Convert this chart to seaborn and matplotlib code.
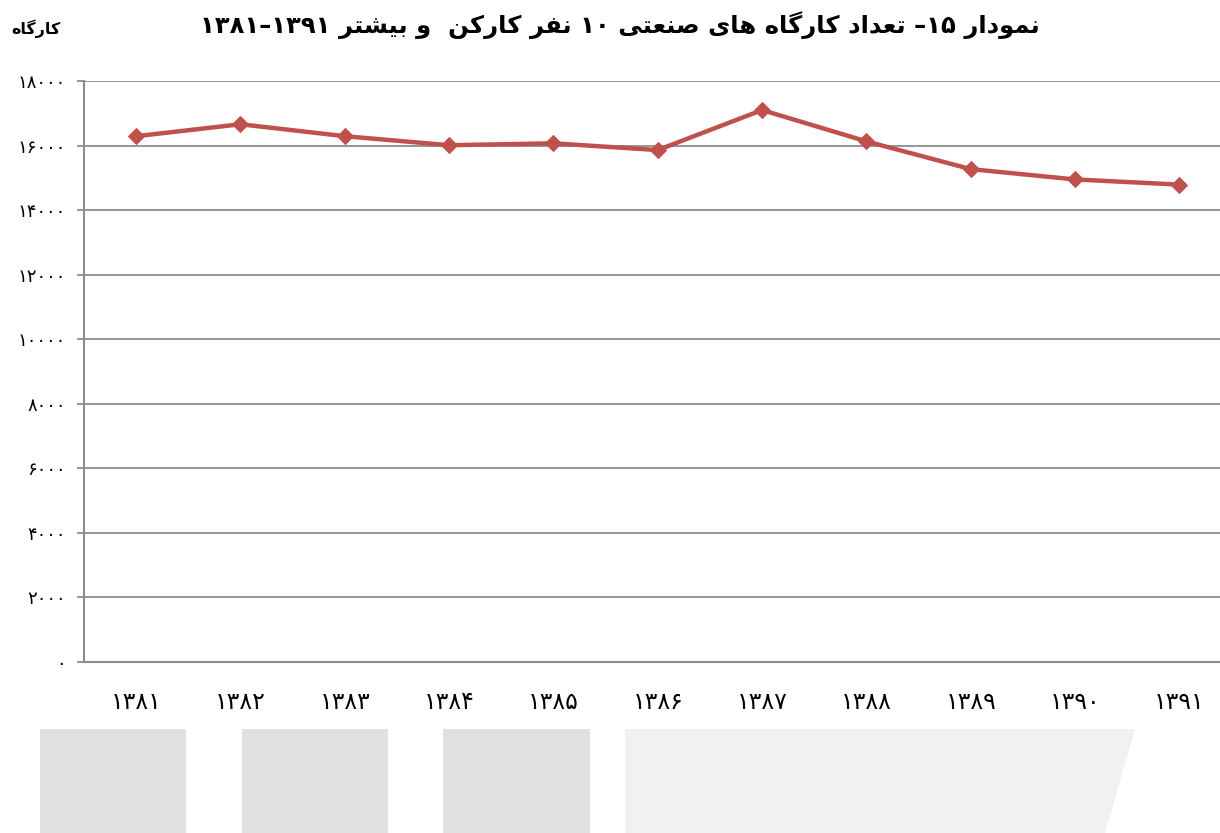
import matplotlib
matplotlib.use("Agg")
import matplotlib.pyplot as plt
from matplotlib.patches import Rectangle, Polygon
import seaborn as sns
import pandas as pd

# ---------------- data ----------------
years = ["۱۳۸۱", "۱۳۸۲", "۱۳۸۳", "۱۳۸۴", "۱۳۸۵", "۱۳۸۶", "۱۳۸۷", "۱۳۸۸", "۱۳۸۹", "۱۳۹۰", "۱۳۹۱"]
workshops = [16290, 16660, 16290, 16010, 16070, 15860, 17100, 16130, 15270, 14950, 14790]
y_ticks = [0, 2000, 4000, 6000, 8000, 10000, 12000, 14000, 16000, 18000]
y_tick_labels = ["۰", "۲۰۰۰", "۴۰۰۰", "۶۰۰۰", "۸۰۰۰", "۱۰۰۰۰", "۱۲۰۰۰", "۱۴۰۰۰", "۱۶۰۰۰", "۱۸۰۰۰"]
title_text = "نمودار ۱۵– تعداد کارگاه های صنعتی ۱۰ نفر کارکن  و بیشتر ۱۳۹۱–۱۳۸۱"
unit_text = "کارگاه"

# ---------------- minimal Persian shaping (visual order) ----------------
FORMS = {  # isolated, final, initial, medial
    "ا": ("\uFE8D", "\uFE8E", None, None),
    "د": ("\uFEA9", "\uFEAA", None, None),
    "ر": ("\uFEAD", "\uFEAE", None, None),
    "و": ("\uFEED", "\uFEEE", None, None),
    "ب": ("\uFE8F", "\uFE90", "\uFE91", "\uFE92"),
    "ت": ("\uFE95", "\uFE96", "\uFE97", "\uFE98"),
    "ش": ("\uFEB5", "\uFEB6", "\uFEB7", "\uFEB8"),
    "ص": ("\uFEB9", "\uFEBA", "\uFEBB", "\uFEBC"),
    "ع": ("\uFEC9", "\uFECA", "\uFECB", "\uFECC"),
    "ف": ("\uFED1", "\uFED2", "\uFED3", "\uFED4"),
    "م": ("\uFEE1", "\uFEE2", "\uFEE3", "\uFEE4"),
    "ن": ("\uFEE5", "\uFEE6", "\uFEE7", "\uFEE8"),
    "ه": ("\uFEE9", "\uFEEA", "\uFEEB", "\uFEEC"),
    "ک": ("\uFB8E", "\uFB8F", "\uFB90", "\uFB91"),
    "گ": ("\uFB92", "\uFB93", "\uFB94", "\uFB95"),
    "ی": ("\uFBFC", "\uFBFD", "\uFBFE", "\uFBFF"),
}


def joins_next(ch):
    return ch in FORMS and FORMS[ch][2] is not None


def shape(text):
    out = []
    n = len(text)
    for i, ch in enumerate(text):
        if ch not in FORMS:
            out.append(ch)
            continue
        prev_j = i > 0 and joins_next(text[i - 1])
        next_j = i < n - 1 and text[i + 1] in FORMS and joins_next(ch)
        iso, fin, ini, med = FORMS[ch]
        if prev_j and next_j:
            out.append(med)
        elif prev_j:
            out.append(fin)
        elif next_j:
            out.append(ini)
        else:
            out.append(iso)
    s = "".join(out)[::-1]
    # restore left-to-right order of digit runs
    res, run = [], []
    for ch in s:
        if "\u06F0" <= ch <= "\u06F9":
            run.append(ch)
        else:
            if run:
                res.append("".join(run[::-1]))
                run = []
            res.append(ch)
    if run:
        res.append("".join(run[::-1]))
    return "".join(res)


# ---------------- plot ----------------
sns.set_theme(style="white")
plt.rcParams["font.family"] = ["DejaVu Sans"]
plt.rcParams["text.color"] = "black"

fig = plt.figure(figsize=(12.2, 8.33), dpi=100)
ax = fig.add_axes([84 / 1220, 1 - 662 / 833, 1 - 84 / 1220, (662 - 81) / 833])

df = pd.DataFrame({"year": years, "value": workshops})
sns.lineplot(data=df, x="year", y="value", ax=ax, sort=False, color="#c0504d",
             linewidth=3.2, marker="D", markersize=8.5, markeredgecolor="#c0504d", zorder=3)

grid_c = "#8c8c8c"
ax.set_ylim(0, 18000)
ax.set_xlim(-0.5, 10.39)
ax.set_yticks(y_ticks)
ax.set_yticklabels(y_tick_labels, fontsize=13)
ax.set_xticks(range(len(years)))
ax.set_xticklabels(years, fontsize=17)
ax.yaxis.grid(True, color=grid_c, linewidth=1.3)
ax.xaxis.grid(False)
ax.set_xlabel("")
ax.set_ylabel("")
for side in ["top", "right"]:
    ax.spines[side].set_visible(False)
for side in ["left", "bottom"]:
    ax.spines[side].set_color(grid_c)
    ax.spines[side].set_linewidth(1.5)
ax.tick_params(axis="y", which="major", length=5, width=1.3, color=grid_c, pad=8, left=True)
ax.tick_params(axis="x", which="major", length=0, pad=20)
for lbl in ax.get_yticklabels() + ax.get_xticklabels():
    lbl.set_color("black")

fig.text(0.508, 0.97, shape(title_text), ha="center", va="center", fontsize=17.5,
         fontweight="bold", color="black")
fig.text(0.029, 0.966, shape(unit_text), ha="center", va="center", fontsize=11.5,
         fontweight="bold", color="black")

# grey decorative blocks at the bottom of the page
H = 833
for x0, x1 in [(40, 186), (242, 388), (443, 590)]:
    fig.patches.append(Rectangle((x0 / 1220, 0), (x1 - x0) / 1220, (H - 729) / H,
                                 transform=fig.transFigure, facecolor="#e1e1e1",
                                 edgecolor="none", zorder=0))
fig.patches.append(Polygon([(625 / 1220, 0), (625 / 1220, (H - 729) / H),
                            (1135 / 1220, (H - 729) / H), (1105 / 1220, 0)],
                           closed=True, transform=fig.transFigure, facecolor="#f1f1f1",
                           edgecolor="none", zorder=0))

fig.savefig("out.png", dpi=100)
